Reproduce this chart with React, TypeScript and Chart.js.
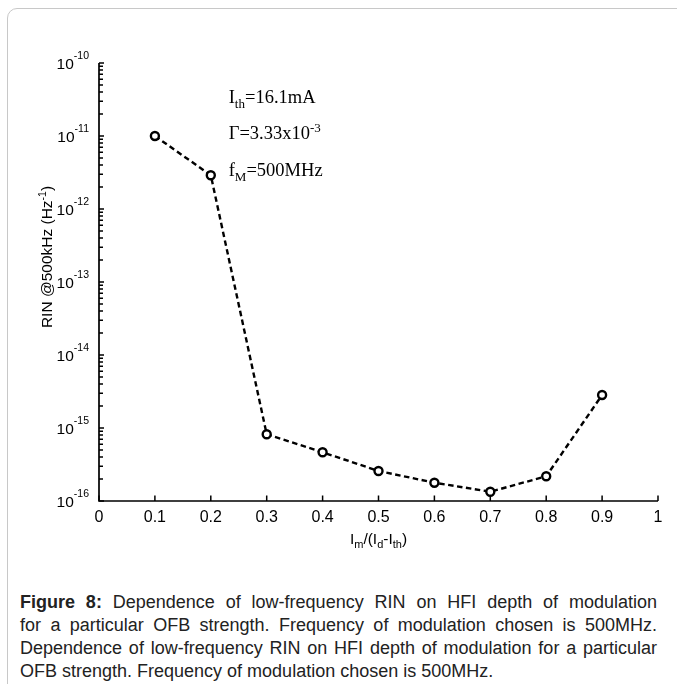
import React, { useEffect, useRef } from 'react';
import { Chart, registerables } from 'chart.js';

Chart.register(...registerables);

// ---- data ----
const depthValues = [0.1, 0.2, 0.3, 0.4, 0.5, 0.6, 0.7, 0.8, 0.9];
const rinValues = [1.0e-11, 2.9e-12, 8.2e-16, 4.65e-16, 2.58e-16, 1.78e-16, 1.34e-16, 2.18e-16, 2.83e-15];
const xTickValues = [0, 0.1, 0.2, 0.3, 0.4, 0.5, 0.6, 0.7, 0.8, 0.9, 1];
const xTickLabels = ['0', '0.1', '0.2', '0.3', '0.4', '0.5', '0.6', '0.7', '0.8', '0.9', '1'];
const yDecadeExponents = [-16, -15, -14, -13, -12, -11, -10];
const yMinorMultipliers = [2, 3, 4, 5, 6, 7, 8, 9];

type Seg = { t: string; s?: 'sub' | 'sup' };
const annotationLines: Seg[][] = [
  [{ t: 'I' }, { t: 'th', s: 'sub' }, { t: '=16.1mA' }],
  [{ t: 'Γ=3.33x10' }, { t: '-3', s: 'sup' }],
  [{ t: 'f' }, { t: 'M', s: 'sub' }, { t: '=500MHz' }],
];
const xAxisTitle: Seg[] = [
  { t: 'I' }, { t: 'm', s: 'sub' }, { t: '/(I' }, { t: 'd', s: 'sub' }, { t: '-I' }, { t: 'th', s: 'sub' }, { t: ')' },
];
const yAxisTitle: Seg[] = [{ t: 'RIN @500kHz (Hz' }, { t: '-1', s: 'sup' }, { t: ')' }];

const captionBold = 'Figure 8:';
const captionLines = [
  ' Dependence of low-frequency RIN on HFI depth of modulation',
  'for a particular OFB strength. Frequency of modulation chosen is 500MHz.',
  'Dependence of low-frequency RIN on HFI depth of modulation for a particular',
  'OFB strength. Frequency of modulation chosen is 500MHz.',
];

const SANS = '"Liberation Sans", Arial, sans-serif';
const SERIF = '"Liberation Serif", "Times New Roman", serif';

function drawRich(
  ctx: CanvasRenderingContext2D,
  segs: Seg[],
  x: number,
  y: number,
  family: string,
  size: number,
  small: number,
  subOff: number,
  supOff: number,
  align: 'left' | 'center'
) {
  const fontOf = (s?: string) => `${s ? small : size}px ${family}`;
  let total = 0;
  for (const sg of segs) {
    ctx.font = fontOf(sg.s);
    total += ctx.measureText(sg.t).width;
  }
  let cx = align === 'center' ? x - total / 2 : x;
  ctx.textAlign = 'left';
  ctx.textBaseline = 'alphabetic';
  for (const sg of segs) {
    ctx.font = fontOf(sg.s);
    const dy = sg.s === 'sub' ? subOff : sg.s === 'sup' ? -supOff : 0;
    ctx.fillText(sg.t, cx, y + dy);
    cx += ctx.measureText(sg.t).width;
  }
}

const axesPlugin = {
  id: 'matlabAxes',
  afterDraw(chart: any) {
    const ctx: CanvasRenderingContext2D = chart.ctx;
    const xs = chart.scales.x;
    const ys = chart.scales.y;
    const x0 = xs.getPixelForValue(0);
    const x1 = xs.getPixelForValue(1);
    const yB = ys.getPixelForValue(1e-16);
    const yT = ys.getPixelForValue(1e-10);
    ctx.save();
    ctx.strokeStyle = '#000';
    ctx.fillStyle = '#000';
    ctx.lineWidth = 1.7;
    ctx.beginPath();
    ctx.moveTo(x0, yT);
    ctx.lineTo(x0, yB);
    ctx.lineTo(x1, yB);
    ctx.stroke();

    // x ticks
    ctx.lineWidth = 1.5;
    ctx.beginPath();
    xTickValues.forEach((v) => {
      const px = xs.getPixelForValue(v);
      ctx.moveTo(px, yB);
      ctx.lineTo(px, yB - 5.5);
    });
    // y ticks
    yDecadeExponents.forEach((e) => {
      const py = ys.getPixelForValue(Math.pow(10, e));
      ctx.moveTo(x0, py);
      ctx.lineTo(x0 + 5, py);
      if (e < -10) {
        yMinorMultipliers.forEach((m) => {
          const pm = ys.getPixelForValue(m * Math.pow(10, e));
          ctx.moveTo(x0, pm);
          ctx.lineTo(x0 + 4, pm);
        });
      }
    });
    ctx.stroke();

    // x tick labels
    ctx.font = `16px ${SANS}`;
    ctx.textAlign = 'center';
    ctx.textBaseline = 'middle';
    xTickValues.forEach((v, i) => {
      ctx.fillText(xTickLabels[i], xs.getPixelForValue(v), yB + 17);
    });

    // y tick labels
    yDecadeExponents.forEach((e) => {
      const py = ys.getPixelForValue(Math.pow(10, e));
      ctx.font = `15.5px ${SANS}`;
      const wb = ctx.measureText('10').width;
      ctx.font = `10.5px ${SANS}`;
      const sup = String(e);
      const ws = ctx.measureText(sup).width;
      const right = x0 - 10;
      const lx = right - ws - wb;
      ctx.textAlign = 'left';
      ctx.textBaseline = 'middle';
      ctx.font = `15.5px ${SANS}`;
      ctx.fillText('10', lx, py + 2);
      ctx.font = `10.5px ${SANS}`;
      ctx.fillText(sup, lx + wb, py - 7);
    });

    // axis titles
    drawRich(ctx, xAxisTitle, (x0 + x1) / 2, yB + 43, SANS, 15.5, 11, 4, 6, 'center');
    ctx.save();
    ctx.translate(52, 257);
    ctx.rotate(-Math.PI / 2);
    drawRich(ctx, yAxisTitle, 0, 0, SANS, 15.5, 10.5, 4, 6, 'center');
    ctx.restore();

    // annotations
    const ax = xs.getPixelForValue(0.232);
    const baseY = [103, 139, 176];
    annotationLines.forEach((segs, i) => {
      drawRich(ctx, segs, ax, baseY[i], SERIF, 18.5, 13, 5, 7.5, 'left');
    });
    ctx.restore();
  },
};

export default function App() {
  const canvasRef = useRef<HTMLCanvasElement | null>(null);

  useEffect(() => {
    const canvas = canvasRef.current;
    if (!canvas) return;
    const chart = new Chart(canvas, {
      type: 'line',
      data: {
        datasets: [
          {
            data: depthValues.map((x, i) => ({ x, y: rinValues[i] })),
            borderColor: '#000',
            borderWidth: 2.4,
            borderDash: [5.5, 3.5],
            pointRadius: 4,
            pointBorderWidth: 2.4,
            pointBorderColor: '#000',
            pointBackgroundColor: '#fff',
            tension: 0,
            fill: false,
          },
        ],
      },
      options: {
        responsive: false,
        animation: false,
        events: [],
        layout: { padding: { left: 99, right: 19, top: 63, bottom: 59 } },
        plugins: { legend: { display: false }, tooltip: { enabled: false } },
        scales: {
          x: { type: 'linear', min: 0, max: 1, display: false },
          y: { type: 'logarithmic', min: 1e-16, max: 1e-10, display: false },
        },
      },
      plugins: [axesPlugin],
    });
    return () => chart.destroy();
  }, []);

  return (
    <div style={{ position: 'absolute', left: 0, top: 0, width: 677, height: 684, overflow: 'hidden', background: '#fff' }}>
      <div
        style={{
          position: 'absolute',
          left: 7,
          top: 8,
          width: 740,
          height: 740,
          border: '1px solid #c8c8c8',
          borderRadius: 10,
          boxSizing: 'border-box',
        }}
      />
      <canvas ref={canvasRef} width={677} height={560} style={{ position: 'absolute', left: 0, top: 0, width: 677, height: 560 }} />
      <div
        style={{
          position: 'absolute',
          left: 20,
          top: 591,
          width: 637,
          fontFamily: SANS,
          fontSize: 18,
          lineHeight: '23px',
          color: '#222',
        }}
      >
        {captionLines.map((line, i) => (
          <div
            key={i}
            style={{
              textAlign: i < 3 ? 'justify' : 'left',
              textAlignLast: i < 3 ? 'justify' : 'left',
              whiteSpace: 'nowrap',
            }}
          >
            {i === 0 ? <b>{captionBold}</b> : null}
            {line}
          </div>
        ))}
      </div>
    </div>
  );
}
